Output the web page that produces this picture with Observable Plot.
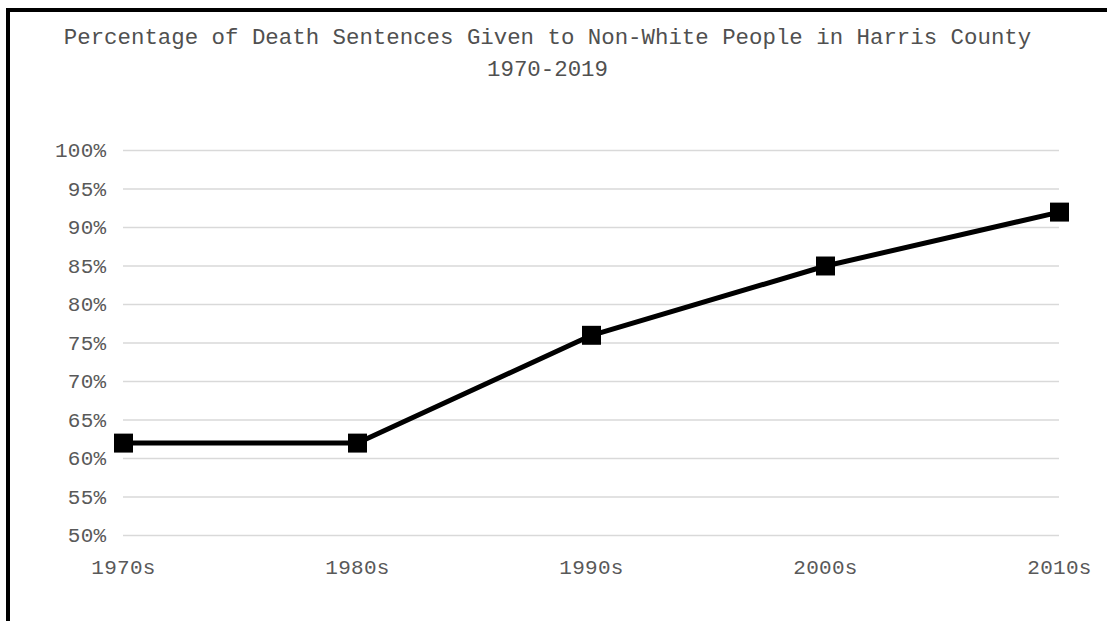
<!DOCTYPE html>
<html>
<head>
<meta charset="utf-8">
<script src="https://cdn.jsdelivr.net/npm/d3@7"></script>
<script src="https://cdn.jsdelivr.net/npm/@observablehq/plot@0.6"></script>
<style>
  html, body { margin: 0; padding: 0; background: #fff; width: 1107px; height: 621px; overflow: hidden; }
  #frame { position: absolute; left: 6px; top: 8px; width: 1200px; height: 700px; border: 4px solid #000; box-sizing: border-box; }
  #title { position: absolute; left: 0; top: 22px; width: 1095px; text-align: center;
           font-family: "Liberation Mono", "DejaVu Sans Mono", monospace; font-size: 22.4px; line-height: 32px; color: #505050; }
  #chart { position: absolute; left: 0; top: 100px; }
  #chart text { letter-spacing: 0.3px; }
</style>
</head>
<body>
<div id="frame"></div>
<div id="title">Percentage of Death Sentences Given to Non-White People in Harris County<br>1970-2019</div>
<div id="chart"></div>
<script>
const decades = ["1970s", "1980s", "1990s", "2000s", "2010s"];
const shares = [62, 62, 76, 85, 92];
const yTicks = [50, 55, 60, 65, 70, 75, 80, 85, 90, 95, 100];

const data = decades.map((d, i) => ({decade: d, share: shares[i]}));

const chart = Plot.plot({
  width: 1107,
  height: 500,
  marginTop: 50,
  marginBottom: 65,
  marginLeft: 123,
  marginRight: 48,
  style: {fontFamily: '"Liberation Mono", "DejaVu Sans Mono", monospace', fontSize: "21px", color: "#595959", background: "transparent"},
  x: {type: "point", domain: decades, padding: 0, label: null},
  y: {domain: [50, 100], label: null},
  marks: [
    Plot.ruleY(yTicks, {stroke: "#d9d9d9", strokeWidth: 1.6}),
    Plot.axisY({ticks: yTicks, tickFormat: d => d + "%", tickSize: 0, tickPadding: 17, fill: "#595959", fontSize: 21}),
    Plot.axisX({tickSize: 0, tickPadding: 24, fill: "#595959", fontSize: 21}),
    Plot.line(data, {x: "decade", y: "share", stroke: "#000", strokeWidth: 5}),
    Plot.dot(data, {x: "decade", y: "share", symbol: "square", r: 10.7, fill: "#000", stroke: "none"})
  ]
});
document.getElementById("chart").appendChild(chart);
</script>
</body>
</html>
